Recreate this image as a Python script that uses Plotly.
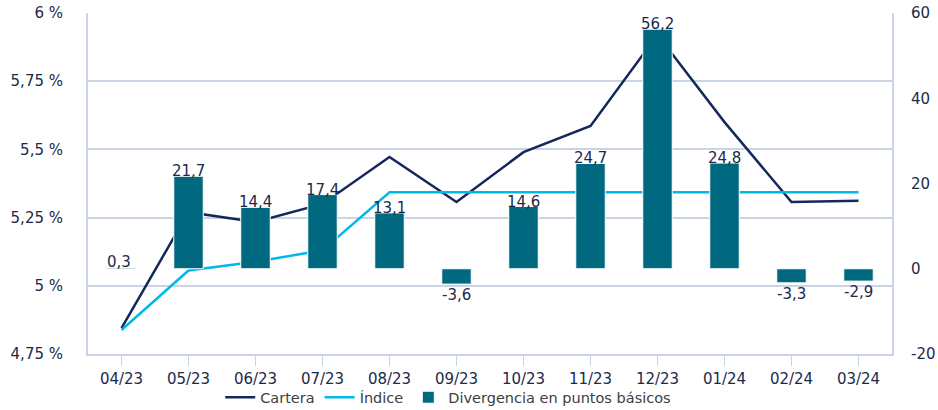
import plotly.graph_objects as go

categories = ["04/23", "05/23", "06/23", "07/23", "08/23", "09/23", "10/23",
              "11/23", "12/23", "01/24", "02/24", "03/24"]
cartera = [4.845, 5.27, 5.234, 5.30, 5.472, 5.307, 5.49, 5.586, 5.92, 5.60, 5.307, 5.312]
indice = [4.838, 5.056, 5.088, 5.13, 5.343, 5.343, 5.343, 5.343, 5.344, 5.344, 5.344, 5.343]
divergencia = [0.3, 21.7, 14.4, 17.4, 13.1, -3.6, 14.6, 24.7, 56.2, 24.8, -3.3, -2.9]
div_labels = ["0,3", "21,7", "14,4", "17,4", "13,1", "-3,6", "14,6", "24,7", "56,2", "24,8", "-3,3", "-2,9"]

left_ticks = [4.75, 5.0, 5.25, 5.5, 5.75, 6.0]
left_ticktext = ["4,75 %", "5 %", "5,25 %", "5,5 %", "5,75 %", "6 %"]
right_ticks = [-20, 0, 20, 40, 60]
right_ticktext = ["-20", "0", "20", "40", "60"]

NAVY = "#14285c"
CYAN = "#00b9ea"
TEAL = "#00697f"
TXT = "#1c2a4a"
GRID = "#c9d5e4"
FONT = "DejaVu Sans"

fig = go.Figure()
fig.add_trace(go.Scatter(x=categories, y=cartera, name="Cartera", mode="lines",
                         line=dict(color=NAVY, width=2.5), yaxis="y"))
fig.add_trace(go.Scatter(x=categories, y=indice, name="Índice", mode="lines",
                         line=dict(color=CYAN, width=2.5), yaxis="y"))
fig.add_trace(go.Bar(x=categories, y=divergencia, name="Divergencia en puntos básicos",
                     marker=dict(color=TEAL, line=dict(color="white", width=1)),
                     width=0.44, yaxis="y2"))

for c, v, t in zip(categories, divergencia, div_labels):
    if v >= 0:
        fig.add_annotation(x=c, y=v, xref="x", yref="y2", text=t, showarrow=False,
                           yanchor="middle", yshift=5,
                           xshift=0 if v > 1 else -3,
                           font=dict(family=FONT, size=15, color=TXT))
    else:
        fig.add_annotation(x=c, y=v, xref="x", yref="y2", text=t, showarrow=False,
                           yanchor="top", yshift=0,
                           font=dict(family=FONT, size=15, color=TXT))

fig.update_layout(
    width=938, height=410,
    margin=dict(l=88, r=46, t=13, b=56, autoexpand=False),
    paper_bgcolor="white", plot_bgcolor="white",
    font=dict(family=FONT, size=15, color=TXT),
    bargap=0.5,
    showlegend=True,
    legend=dict(orientation="h", x=0.448, xanchor="center", y=-0.08, yanchor="top",
                bgcolor="rgba(0,0,0,0)",
                font=dict(family=FONT, size=14.5, color="#404040"),
                itemwidth=30, traceorder="normal"),
    xaxis=dict(type="category", showgrid=False, showline=True, linecolor=GRID, linewidth=2,
               ticks="outside", ticklen=10, tickcolor=GRID, tickwidth=1, automargin=False,
               tickfont=dict(family=FONT, size=15, color=TXT), mirror=False),
    yaxis=dict(range=[4.75, 6.0], tickvals=left_ticks, ticktext=left_ticktext,
               showgrid=True, gridcolor=GRID, gridwidth=1.5, showline=True, linecolor=GRID,
               linewidth=2, zeroline=False, ticks="", ticklabelstandoff=20, automargin=False,
               tickfont=dict(family=FONT, size=15, color=TXT)),
    yaxis2=dict(range=[-20, 60], tickvals=right_ticks, ticktext=right_ticktext,
                overlaying="y", side="right", showgrid=False, showline=True, linecolor=GRID,
                linewidth=2, zeroline=False, ticks="", ticklabelstandoff=14, automargin=False,
                tickfont=dict(family=FONT, size=15, color=TXT)),
)

fig.write_html("out.html", config={"displayModeBar": False},
               post_script="document.body.style.margin='0';document.body.style.overflow='hidden';")
